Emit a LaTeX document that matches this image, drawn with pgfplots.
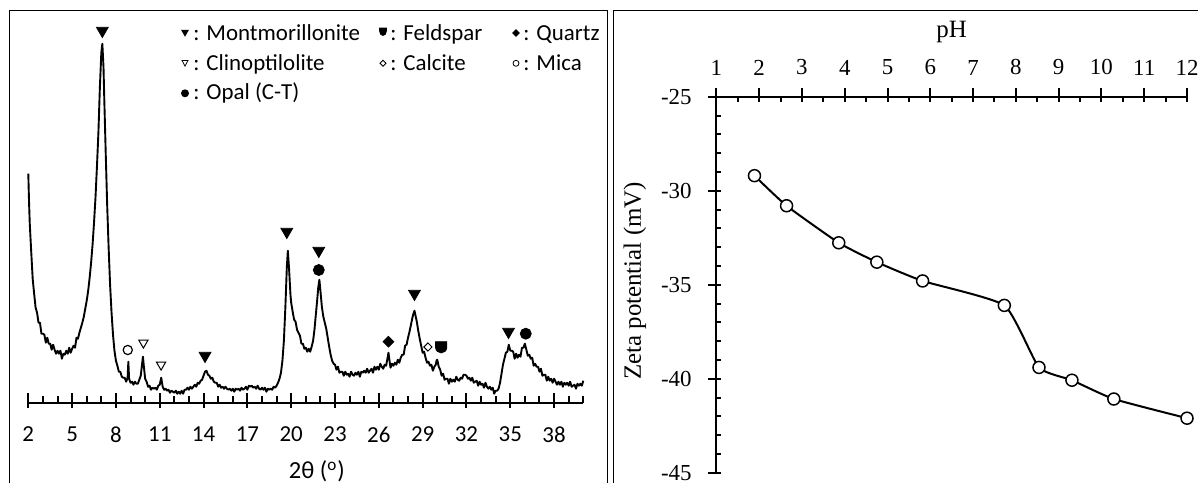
\documentclass[border=0pt]{standalone}
\usepackage{fontspec}
\setmainfont{Carlito}
\newfontfamily\tnr{Liberation Serif}
\usepackage{pgfplots}
\pgfplotsset{compat=1.18}

% feldspar marker: flat top, rounded bottom
\pgfdeclareplotmark{shield}{%
  \pgfpathmoveto{\pgfqpoint{-\pgfplotmarksize}{\pgfplotmarksize}}%
  \pgfpathlineto{\pgfqpoint{\pgfplotmarksize}{\pgfplotmarksize}}%
  \pgfpathlineto{\pgfqpoint{\pgfplotmarksize}{0pt}}%
  \pgfpathcurveto{\pgfqpoint{\pgfplotmarksize}{-0.6\pgfplotmarksize}}{\pgfqpoint{0.5\pgfplotmarksize}{-\pgfplotmarksize}}{\pgfqpoint{0pt}{-\pgfplotmarksize}}%
  \pgfpathcurveto{\pgfqpoint{-0.5\pgfplotmarksize}{-\pgfplotmarksize}}{\pgfqpoint{-\pgfplotmarksize}{-0.6\pgfplotmarksize}}{\pgfqpoint{-\pgfplotmarksize}{0pt}}%
  \pgfpathclose
  \pgfusepathqfillstroke}

\newcommand{\lfont}{\fontsize{11.5}{13}\selectfont}
\newcommand{\rfont}{\tnr\fontsize{11.5}{13}\selectfont}

\begin{document}
\begin{tikzpicture}
\useasboundingbox (0,0) rectangle (599bp,-241.5bp);

% panel frames
\draw[line width=0.75bp] (4.65bp,-260bp) -- (4.65bp,-5.35bp) -- (303.65bp,-5.35bp) -- (303.65bp,-260bp);
\draw[line width=0.75bp] (306.65bp,-260bp) -- (306.65bp,-5.35bp) -- (620bp,-5.35bp);

% ---------- left: XRD pattern ----------
\begin{axis}[
  at={(14.15bp,-201.35bp)}, anchor=south west,
  scale only axis, width=277.5bp, height=196bp,
  xmin=2, xmax=40, ymin=0, ymax=392,
  axis x line*=bottom, axis y line=none,
  axis line style={-, line width=1bp},
  xtick={2,5,...,38}, minor xtick={2,...,40},
  tick align=inside, major tick length=7.5bp, minor tick length=3.35bp,
  tick style={black, line width=1bp},
  major x tick style={yshift=-2.8bp},
  /pgf/number format/assume math mode=true,
  xticklabel style={font=\lfont, anchor=north, inner sep=0pt, yshift=-11.9bp},
  xlabel={2θ (\textsuperscript{o})},
  xlabel style={font=\fontsize{12.3}{14}\selectfont, at={(axis description cs:0.52,-0.176)}, anchor=center},
  clip=false,
]
\addplot[black, line width=0.95bp, line join=round] coordinates {
(2.0,229)(2.05,201)(2.1,179)(2.2,151)(2.3,124)(2.4,109)(2.5,95)
(2.6,90)(2.7,80)(2.8,80)(2.9,69)(3.0,69)(3.1,68)(3.2,60)(3.3,65)(3.4,59)(3.5,59)
(3.6,53)(3.7,58)(3.8,53)(3.9,49)(4.0,52)(4.1,49)(4.2,52)(4.3,44)(4.4,49)(4.5,48)
(4.6,52)(4.7,49)(4.8,55)(4.9,50)(5.0,54)(5.1,57)(5.2,55)(5.3,65)(5.4,64)(5.5,70)
(5.6,75)(5.7,80)(5.8,86)(5.9,94)(6.0,102)(6.1,112)(6.2,125)(6.3,140)(6.4,158)(6.5,180)
(6.6,205)(6.7,236)(6.8,270)(6.9,315)(7.0,350)(7.07,359)(7.15,335)(7.2,305)(7.3,250)(7.4,198)
(7.5,155)(7.6,118)(7.7,90)(7.8,68)(7.9,52)(8.0,42)
(8.1,37)(8.2,31)(8.3,31)(8.4,26)(8.5,25)(8.6,25)(8.7,21)(8.8,25)(8.85,41)(8.9,24)
(9.0,20)(9.1,21)(9.2,18)(9.3,21)(9.4,19)(9.5,19)(9.6,23)(9.7,27)(9.8,40)(9.85,46)(9.9,38)
(10.0,24)(10.1,21)(10.2,16)(10.3,17)(10.4,13)(10.5,15)(10.6,14)(10.7,15)(10.8,13)(10.9,17)
(11.0,18)(11.1,25)(11.2,16)(11.3,13)(11.4,14)(11.5,12)(11.6,13)(11.7,10)(11.8,12)(11.9,11)
(12.0,10)(12.1,12)(12.2,9)(12.3,11)(12.4,9)(12.5,12)(12.6,9)(12.7,13)(12.8,13)(12.9,15)
(13.0,13)(13.1,16)(13.2,14)(13.3,16)(13.4,18)(13.5,16)(13.6,20)(13.7,19)(13.8,22)(13.9,23)
(14.0,27)(14.1,31)(14.2,32)(14.3,28)(14.4,27)(14.5,24)(14.6,25)(14.7,21)(14.8,20)(14.9,20)
(15.0,16)(15.1,18)(15.2,15)(15.3,16)(15.4,14)(15.5,16)(15.6,14)(15.7,13)(15.8,14)(15.9,12)
(16.0,14)(16.1,11)(16.2,14)(16.3,13)(16.4,14)(16.5,12)(16.6,15)(16.7,13)(16.8,14)(16.9,16)
(17.0,13)(17.1,17)(17.2,16)(17.3,17)(17.4,15)(17.5,16)(17.6,14)(17.7,17)(17.8,14)(17.9,13)
(18.0,15)(18.1,13)(18.2,15)(18.3,11)(18.4,14)(18.5,13)(18.6,14)(18.7,13)(18.8,16)(18.9,15)
(19.0,17)(19.1,20)(19.2,24)(19.3,30)(19.4,42)(19.5,62)(19.6,95)(19.7,135)(19.77,152)(19.85,135)
(19.95,108)(20.0,100)(20.1,91)(20.2,83)(20.3,81)(20.4,73)(20.5,70)(20.6,67)(20.7,59)(20.8,59)
(20.9,54)(21.0,55)(21.1,51)(21.2,54)(21.3,51)(21.4,56)(21.5,62)(21.6,74)(21.7,90)(21.8,106)
(21.85,115)(21.93,123)(22.0,112)(22.1,96)(22.2,86)(22.3,80)(22.4,74)(22.5,65)(22.6,56)(22.7,48)
(22.8,42)(22.9,39)
(23.0,38)(23.1,33)(23.2,36)(23.3,30)(23.4,31)(23.5,31)(23.6,27)(23.7,31)(23.8,28)(23.9,29)
(24.0,26)(24.1,31)(24.2,28)(24.3,27)(24.4,30)(24.5,28)(24.6,31)(24.7,26)(24.8,31)(24.9,30)
(25.0,32)(25.1,30)(25.2,34)(25.3,30)(25.4,32)(25.5,34)(25.6,30)(25.7,36)(25.8,33)(25.9,36)
(26.0,33)(26.1,39)(26.2,36)(26.3,34)(26.4,38)(26.5,37)(26.6,45)(26.66,50)(26.75,40)(26.8,35)
(26.9,39)(27.0,37)(27.1,40)(27.2,38)(27.3,43)(27.4,40)(27.5,45)(27.6,48)(27.7,48)(27.8,57)
(27.9,58)(28.0,65)(28.1,71)(28.2,78)(28.3,85)(28.35,88)(28.44,92)(28.5,88)(28.6,81)(28.7,72)
(28.8,64)(28.9,57)(29.0,50)(29.1,51)(29.2,45)(29.3,40)(29.4,41)(29.5,37)(29.6,38)(29.7,32)
(29.8,36)(29.9,38)(29.95,42)(30.0,43)(30.1,36)(30.2,33)(30.3,27)(30.4,29)(30.5,23)(30.6,24)
(30.7,24)(30.8,19)(30.9,24)(31.0,21)(31.1,23)(31.2,21)(31.3,26)(31.4,23)(31.5,22)(31.6,25)
(31.7,24)(31.8,28)(31.9,28)(32.0,27)(32.1,24)(32.2,25)(32.3,22)(32.4,25)(32.5,20)(32.6,21)
(32.7,22)(32.8,17)(32.9,21)(33.0,18)(33.1,19)(33.2,15)(33.3,20)(33.4,16)(33.5,14)(33.6,16)
(33.7,13)(33.8,15)(33.9,9)(34.0,12)(34.1,12)(34.2,14)(34.3,20)(34.4,29)(34.5,38)(34.6,44)
(34.7,50)(34.8,51)(34.9,58)(35.0,52)(35.1,52)(35.2,51)(35.3,44)(35.4,49)(35.5,45)(35.6,48)
(35.7,46)(35.8,55)(35.9,55)(36.0,59)(36.1,53)(36.2,47)(36.3,48)(36.4,44)(36.5,45)(36.6,37)
(36.7,39)(36.8,36)(36.9,36)(37.0,31)(37.1,34)(37.2,27)(37.3,28)(37.4,28)(37.5,22)(37.6,26)
(37.7,22)(37.8,24)(37.9,20)(38.0,24)(38.1,21)(38.2,18)(38.3,21)(38.4,18)(38.5,21)(38.6,16)
(38.7,20)(38.8,18)(38.9,20)(39.0,17)(39.1,21)(39.2,16)(39.3,17)(39.4,18)(39.5,14)(39.6,19)
(39.7,17)(39.8,19)(39.9,17)(40.0,22)
};
% phase markers
\addplot[only marks, mark=triangle*, mark size=3.4bp, mark options={rotate=180, black, fill=black}]
  coordinates {(7.07,372)(14.1,47)(19.7,171)(21.89,152)(28.44,109)(34.88,71)};
\addplot[only marks, mark=*, mark size=2.75bp, mark options={black, fill=black}]
  coordinates {(21.89,132.7)(36.06,69)};
\addplot[only marks, mark=*, mark size=2.3bp, mark options={black, fill=white, line width=0.6bp}]
  coordinates {(8.81,52.7)};
\addplot[only marks, mark=triangle*, mark size=2.7bp, mark options={rotate=180, black, fill=white, line width=0.5bp}]
  coordinates {(9.88,60)(11.09,38)};
\addplot[only marks, mark=square*, mark size=1.9bp, mark options={rotate=45, black, fill=black}]
  coordinates {(26.66,61)};
\addplot[only marks, mark=square*, mark size=1.45bp, mark options={rotate=45, black, fill=white, line width=0.5bp}]
  coordinates {(29.36,55.7)};
\addplot[only marks, mark=shield, mark size=2.8bp, mark options={black, fill=black}]
  coordinates {(30.27,55.4)};
\end{axis}

% legend of the left panel
\fill (90.5bp,-14.9bp) -- (94.5bp,-14.9bp) -- (92.5bp,-18.4bp) -- cycle;
\fill (189.6bp,-13.75bp) -- (193.4bp,-13.75bp) -- (193.4bp,-15.6bp)
  .. controls (193.4bp,-17bp) and (192.55bp,-17.95bp) .. (191.5bp,-17.95bp)
  .. controls (190.45bp,-17.95bp) and (189.6bp,-17bp) .. (189.6bp,-15.6bp) -- cycle;
\fill (258bp,-14.6bp) -- (259.9bp,-16.5bp) -- (258bp,-18.4bp) -- (256.1bp,-16.5bp) -- cycle;
\draw[line width=0.4bp] (91bp,-30.2bp) -- (94bp,-30.2bp) -- (92.5bp,-33.05bp) -- cycle;
\draw[line width=0.4bp] (191.5bp,-30.15bp) -- (193bp,-31.65bp) -- (191.5bp,-33.15bp) -- (190bp,-31.65bp) -- cycle;
\draw[line width=0.4bp] (258bp,-31.65bp) circle (1.5bp);
\fill (92.5bp,-46.65bp) circle (2bp);
\begin{scope}[every node/.style={anchor=base west, inner sep=0pt, font=\fontsize{11.5}{13}\selectfont}]
\node at (96.5bp,-20bp) {: Montmorillonite};
\node at (195bp,-20bp) {: Feldspar};
\node at (261.5bp,-20bp) {: Quartz};
\node at (96.5bp,-35bp) {: Clinoptilolite};
\node at (195bp,-35bp) {: Calcite};
\node at (261.5bp,-35bp) {: Mica};
\node at (96.5bp,-49.5bp) {: Opal (C-T)};
\end{scope}

% ---------- right: zeta potential ----------
\begin{axis}[
  at={(358.2bp,-236.35bp)}, anchor=south west,
  scale only axis, width=235.3bp, height=188bp,
  xmin=1, xmax=12, ymin=-45, ymax=-25,
  axis x line*=top, axis y line*=left,
  axis line style={-, line width=1bp},
  xtick={1,...,12}, minor x tick num=1,
  ytick={-45,-40,...,-25}, minor y tick num=4,
  tick align=inside, major tick length=6.6bp, minor tick length=2.4bp,
  tick style={black, line width=1bp},
  major x tick style={yshift=4.2bp},
  major y tick style={xshift=-4.2bp},
  /pgf/number format/assume math mode=true,
  xticklabel style={font=\rfont, anchor=south, inner sep=0pt, yshift=10.6bp},
  yticklabel style={font=\rfont, anchor=east, inner sep=0pt, xshift=-12.2bp},
  xlabel={pH},
  xlabel style={font=\tnr\fontsize{12.5}{14}\selectfont, at={(axis description cs:0.5,1.171)}, anchor=center},
  ylabel={Zeta potential (mV)},
  ylabel style={font=\tnr\fontsize{12.5}{14}\selectfont, at={(axis description cs:-0.1735,0.51)}, anchor=center},
  clip=false,
]
\addplot[black, line width=1bp, smooth, tension=0.3, mark=*, mark size=3bp,
  mark options={solid, black, fill=white, line width=0.75bp}]
  coordinates {(1.89,-29.2)(2.64,-30.8)(3.86,-32.77)(4.75,-33.8)(5.82,-34.8)
               (7.73,-36.1)(8.54,-39.4)(9.31,-40.08)(10.29,-41.08)(12,-42.1)};
\end{axis}
\end{tikzpicture}
\end{document}
